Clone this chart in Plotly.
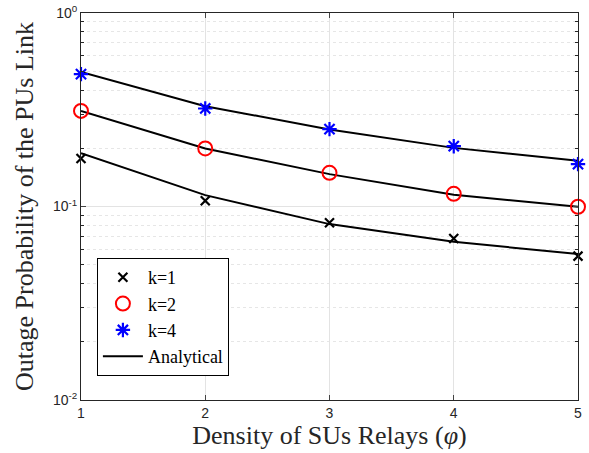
import plotly.graph_objects as go

x_vals = [1, 2, 3, 4, 5]
k1_sim = [0.177, 0.107, 0.0824, 0.0684, 0.0554]
k2_sim = [0.312, 0.1995, 0.1493, 0.1163, 0.0997]
k4_sim = [0.483, 0.321, 0.251, 0.205, 0.1655]
k1_ana = [0.1887, 0.1145, 0.0811, 0.0657, 0.0568]
k2_ana = [0.312, 0.1995, 0.147, 0.1149, 0.0997]
k4_ana = [0.496, 0.330, 0.2498, 0.2009, 0.1721]
y_tick_vals = [0.01, 0.1, 1]
y_tick_text = ["10<sup>-2</sup>", "10<sup>-1</sup>", "10<sup>0</sup>"]

fig = go.Figure()
for ya in [k1_ana, k2_ana, k4_ana]:
    fig.add_trace(go.Scatter(x=x_vals, y=ya, mode="lines",
                             line=dict(color="black", width=2),
                             showlegend=False, cliponaxis=False))
fig.add_trace(go.Scatter(x=x_vals, y=k1_sim, mode="markers", name="k=1", cliponaxis=False,
                         marker=dict(symbol="x-thin", size=9, color="black",
                                     line=dict(color="black", width=2.2))))
fig.add_trace(go.Scatter(x=x_vals, y=k2_sim, mode="markers", name="k=2", cliponaxis=False,
                         marker=dict(symbol="circle-open", size=14, color="red",
                                     line=dict(color="red", width=2))))
fig.add_trace(go.Scatter(x=x_vals, y=k4_sim, mode="markers", name="k=4", cliponaxis=False,
                         marker=dict(symbol="asterisk-open", size=12, color="blue",
                                     line=dict(color="blue", width=2.2))))
fig.add_trace(go.Scatter(x=[None], y=[None], mode="lines", name="Analytical",
                         line=dict(color="black", width=2)))

fig.update_layout(
    width=589, height=453,
    margin=dict(l=81, r=11, t=13, b=53, autoexpand=False),
    paper_bgcolor="white", plot_bgcolor="white",
    legend=dict(x=0.032, y=0.367, xanchor="left", yanchor="top",
                bgcolor="white", bordercolor="black", borderwidth=1,
                font=dict(family="Liberation Serif", size=18, color="black"),
                itemwidth=40, tracegroupgap=0),
    xaxis=dict(range=[1, 5], tickvals=x_vals, ticks="inside", ticklen=5, automargin=False,
               showline=True, linecolor="#262626", linewidth=1, mirror="ticks",
               showgrid=True, gridcolor="#e3e3e3", gridwidth=1, zeroline=False,
               tickfont=dict(family="Liberation Sans", size=14, color="#262626"),
               title=dict(text="Density of SUs Relays (<i>φ</i>)", standoff=2,
                          font=dict(family="Liberation Serif", size=26, color="#262626"))),
    yaxis=dict(type="log", range=[-2, 0], tickvals=y_tick_vals, ticktext=y_tick_text,
               ticks="inside", ticklen=5, automargin=False,
               showline=True, linecolor="#262626", linewidth=1, mirror="ticks",
               showgrid=True, gridcolor="#e3e3e3", gridwidth=1, zeroline=False,
               minor=dict(dtick="D1", ticks="inside", ticklen=3, showgrid=True,
                          gridcolor="#e6e6e6", griddash="dot", tickcolor="#262626"),
               tickfont=dict(family="Liberation Sans", size=14, color="#262626"),
               title=dict(text="Outage Probability of the PUs Link", standoff=11,
                          font=dict(family="Liberation Serif", size=26, color="#262626"))),
)
fig.write_html("out.html", config={"displayModeBar": False},
               post_script="document.body.style.margin='0px';")
